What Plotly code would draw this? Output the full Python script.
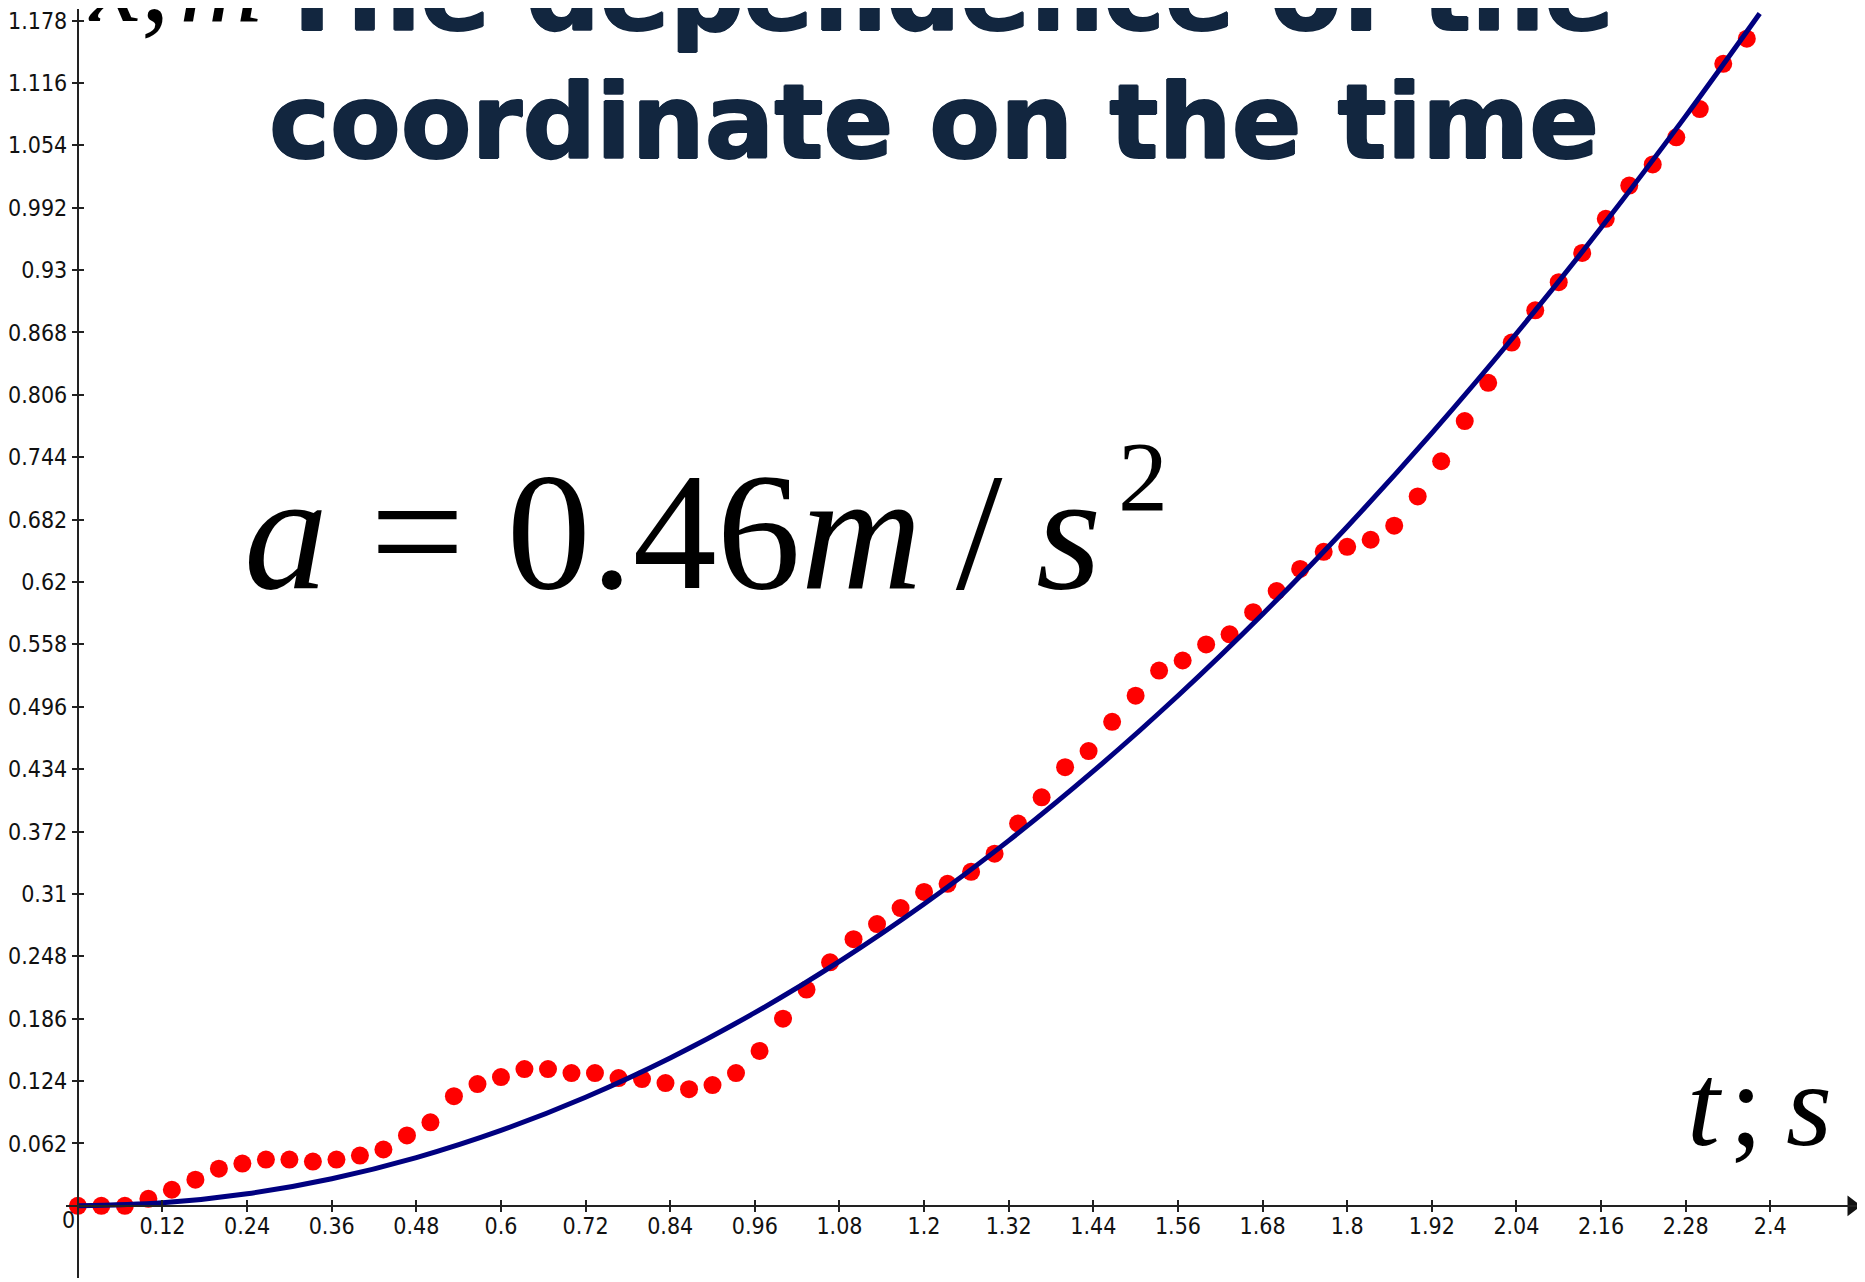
import plotly.graph_objects as go

# ---------------- data ----------------
time_s = [0.0, 0.0333, 0.0667, 0.1, 0.1333, 0.1667, 0.2, 0.2333, 0.2667, 0.3,
          0.3333, 0.3667, 0.4, 0.4333, 0.4667, 0.5, 0.5333, 0.5667, 0.6, 0.6333,
          0.6667, 0.7, 0.7333, 0.7667, 0.8, 0.8333, 0.8667, 0.9, 0.9333, 0.9667,
          1.0, 1.0333, 1.0667, 1.1, 1.1333, 1.1667, 1.2, 1.2333, 1.2667, 1.3,
          1.3333, 1.3667, 1.4, 1.4333, 1.4667, 1.5, 1.5333, 1.5667, 1.6, 1.6333,
          1.6667, 1.7, 1.7333, 1.7667, 1.8, 1.8333, 1.8667, 1.9, 1.9333, 1.9667,
          2.0, 2.0333, 2.0667, 2.1, 2.1333, 2.1667, 2.2, 2.2333, 2.2667, 2.3,
          2.3333, 2.3667]
coord_m = [0.000, 0.000, 0.000, 0.007, 0.016, 0.026, 0.037, 0.042, 0.046, 0.046,
           0.044, 0.046, 0.050, 0.056, 0.070, 0.083, 0.109, 0.121, 0.128, 0.136,
           0.136, 0.132, 0.132, 0.127, 0.126, 0.122, 0.116, 0.120, 0.132, 0.154,
           0.186, 0.215, 0.242, 0.265, 0.280, 0.296, 0.312, 0.320, 0.332, 0.350,
           0.380, 0.406, 0.436, 0.452, 0.481, 0.507, 0.532, 0.542, 0.558, 0.568,
           0.590, 0.611, 0.633, 0.650, 0.655, 0.662, 0.676, 0.705, 0.740, 0.780,
           0.818, 0.858, 0.890, 0.918, 0.947, 0.981, 1.014, 1.035, 1.062, 1.090,
           1.135, 1.160]

fit_t = [0.0, 0.12, 0.24, 0.36, 0.48, 0.60, 0.72, 0.84, 0.96, 1.08, 1.20,
         1.32, 1.44, 1.56, 1.68, 1.80, 1.92, 2.04, 2.16, 2.28, 2.385]
fit_x = [0.0, 0.003, 0.012, 0.027, 0.048, 0.075, 0.108, 0.147, 0.192, 0.243, 0.300,
         0.363, 0.432, 0.507, 0.588, 0.675, 0.768, 0.867, 0.972, 1.083, 1.185]

x_tick_vals = [0.12, 0.24, 0.36, 0.48, 0.6, 0.72, 0.84, 0.96, 1.08, 1.2,
               1.32, 1.44, 1.56, 1.68, 1.8, 1.92, 2.04, 2.16, 2.28, 2.4]
x_tick_text = ["0.12", "0.24", "0.36", "0.48", "0.6", "0.72", "0.84", "0.96", "1.08", "1.2",
               "1.32", "1.44", "1.56", "1.68", "1.8", "1.92", "2.04", "2.16", "2.28", "2.4"]
y_tick_vals = [0.062, 0.124, 0.186, 0.248, 0.31, 0.372, 0.434, 0.496, 0.558, 0.62,
               0.682, 0.744, 0.806, 0.868, 0.93, 0.992, 1.054, 1.116, 1.178]
y_tick_text = ["0.062", "0.124", "0.186", "0.248", "0.31", "0.372", "0.434", "0.496", "0.558", "0.62",
               "0.682", "0.744", "0.806", "0.868", "0.93", "0.992", "1.054", "1.116", "1.178"]

# ---------------- geometry (page pixels; the page body adds an 8px margin) ----------------
OFF = 8
PAGE_W, PAGE_H = 1865, 1282
W, H = PAGE_W - OFF, PAGE_H - OFF
X0_PX, PX_PER_S = 74.0 - OFF, 706.7       # t = 0 column, pixels per second
Y0_PX, PX_PER_M = 1205.8 - OFF, 1007.0    # x = 0 row (from top), pixels per metre
XDOM = (62.0 - OFF, 1860.0 - OFF)
YDOM_BOTTOM = 1278.0 - OFF

x_range = [(XDOM[0] - X0_PX) / PX_PER_S, (XDOM[1] - X0_PX) / PX_PER_S]
y_range = [(Y0_PX - YDOM_BOTTOM) / PX_PER_M, Y0_PX / PX_PER_M]
x_axis_pos = 1 - Y0_PX / H
y_axis_pos = X0_PX / W

AXIS_COLOR = "#222222"
TICK_FONT = dict(family="Liberation Sans Narrow, Arial Narrow, DejaVu Sans Condensed, Liberation Sans, sans-serif",
                 size=23, color="#111111")

fig = go.Figure()

fig.add_trace(go.Scatter(
    x=time_s, y=coord_m, mode="markers",
    marker=dict(color="#ff0000", size=18, line=dict(width=0)),
    hoverinfo="skip", showlegend=False))

fig.add_trace(go.Scatter(
    x=fit_t, y=fit_x, mode="lines",
    line=dict(color="#000080", width=5, shape="spline", smoothing=1.0),
    hoverinfo="skip", showlegend=False))

# arrow head at the right end of the t axis
fig.add_trace(go.Scatter(
    x=[x_range[1] - 8.0 / PX_PER_S], y=[0], mode="markers",
    marker=dict(symbol="triangle-right", size=18, color="#111111", line=dict(width=0)),
    cliponaxis=False, hoverinfo="skip", showlegend=False))

# helper trace for the overlay axes (other halves of the crossing ticks)
fig.add_trace(go.Scatter(x=[], y=[], xaxis="x2", yaxis="y2", showlegend=False, hoverinfo="skip"))

common = dict(showgrid=False, zeroline=False, fixedrange=True)

fig.update_layout(
    width=W, height=H,
    margin=dict(l=0, r=0, t=0, b=0, pad=0),
    paper_bgcolor="white", plot_bgcolor="white",
    showlegend=False,
    xaxis=dict(domain=[XDOM[0] / W, XDOM[1] / W], range=x_range, anchor="free", position=x_axis_pos,
               showline=True, linecolor=AXIS_COLOR, linewidth=2,
               ticks="inside", ticklen=5, tickwidth=2, tickcolor=AXIS_COLOR,
               tickmode="array", tickvals=x_tick_vals, ticktext=x_tick_text, tickfont=TICK_FONT,
               ticklabeloverflow="allow", **common),
    xaxis2=dict(overlaying="x", range=x_range, anchor="free", position=x_axis_pos,
                showline=False, ticks="outside", ticklen=5, tickwidth=2, tickcolor=AXIS_COLOR,
                tickmode="array", tickvals=x_tick_vals, showticklabels=False, **common),
    yaxis=dict(domain=[1 - YDOM_BOTTOM / H, 1], range=y_range, anchor="free", position=y_axis_pos,
               showline=True, linecolor=AXIS_COLOR, linewidth=2,
               ticks="outside", ticklen=5, tickwidth=2, tickcolor=AXIS_COLOR,
               tickmode="array", tickvals=y_tick_vals, ticktext=y_tick_text, tickfont=TICK_FONT,
               ticklabeloverflow="allow", **common),
    yaxis2=dict(overlaying="y", range=y_range, anchor="free", position=y_axis_pos,
                showline=False, ticks="inside", ticklen=5, tickwidth=2, tickcolor=AXIS_COLOR,
                tickmode="array", tickvals=y_tick_vals, showticklabels=False, **common),
)

NAVY = "#12263f"
TITLE_FONT = dict(family="DejaVu Sans, Liberation Sans, sans-serif", size=103, color=NAVY, weight="bold",
                  shadow=f"1px 0 0 {NAVY}, -1px 0 0 {NAVY}, 0 1px 0 {NAVY}, 0 -1px 0 {NAVY}")
SERIF = "Liberation Serif, Times New Roman, DejaVu Serif, serif"


def ann(text, x_page, y_page, xanchor, yanchor, font):
    fig.add_annotation(text=text, x=(x_page - OFF) / W, y=1 - (y_page - OFF) / H,
                       xref="paper", yref="paper", xanchor=xanchor, yanchor=yanchor,
                       showarrow=False, font=font, align="center")


# title (two lines, the top one cut by the page edge)
ann("<b>The dependence of the</b>", 944, 29 + 0.236 * 103 + 2, "center", "bottom", TITLE_FONT)
ann("<b>coordinate on the time</b>", 932, 157 + 0.236 * 103 + 2, "center", "bottom", TITLE_FONT)

# formula a = 0.46 m/s^2
F_FORM = 168
ann("<i>a</i> = 0.46<i>m</i>\u2009/\u2009<i>s</i>", 238, 587 + 0.216 * F_FORM + 2,
    "left", "bottom", dict(family=SERIF, size=F_FORM, color="#000000"))
F_SUP = 100
ann("2", 1114, 510 + 0.216 * F_SUP + 2, "left", "bottom", dict(family=SERIF, size=F_SUP, color="#000000"))

# axis names
F_T = 118
ann("<i>t</i>\u200a;\u2009<i>s</i>", 1685, 1145 + 0.216 * F_T + 2, "left", "bottom",
    dict(family=SERIF, size=F_T, color="#000000"))
ann("<i>x</i>,\u200a<i>m</i>", 82, 20 + 0.216 * 115 + 2, "left", "bottom",
    dict(family=SERIF, size=115, color="#000000"))

# origin label
ann("0", 65, 1220, "center", "middle", TICK_FONT)

fig.write_html("out.html")
